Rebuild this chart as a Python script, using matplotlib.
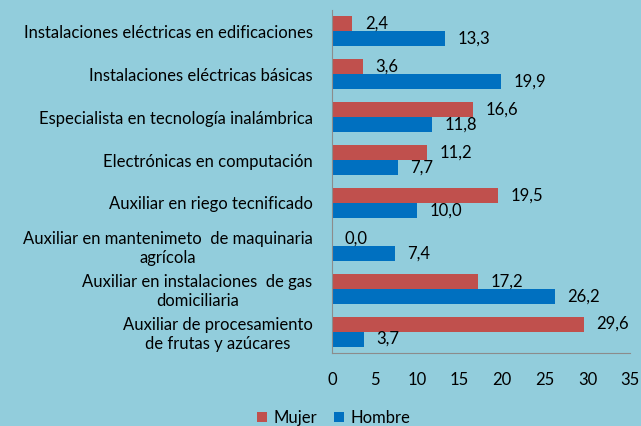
import matplotlib.pyplot as plt
import numpy as np

# data
categorias = [
    "Instalaciones eléctricas en edificaciones",
    "Instalaciones eléctricas básicas",
    "Especialista en tecnología inalámbrica",
    "Electrónicas en computación",
    "Auxiliar en riego tecnificado",
    "Auxiliar en mantenimeto  de maquinaria\nagrícola",
    "Auxiliar en instalaciones  de gas\ndomiciliaria",
    "Auxiliar de procesamiento\nde frutas y azúcares",
]
mujer = [2.4, 3.6, 16.6, 11.2, 19.5, 0.0, 17.2, 29.6]
hombre = [13.3, 19.9, 11.8, 7.7, 10.0, 7.4, 26.2, 3.7]
xticks = [0, 5, 10, 15, 20, 25, 30, 35]

bg = "#92CDDC"
c_mujer = "#C0504D"
c_hombre = "#0070C0"
fs = 12

plt.rcParams['font.family'] = ['Lato', 'DejaVu Sans']

fig = plt.figure(figsize=(6.41, 4.26), dpi=100, facecolor=bg)
ax = fig.add_axes([332 / 641, 1 - 353 / 426, (630 - 332) / 641, (353 - 10) / 426])
ax.set_facecolor(bg)

y = np.arange(len(categorias))
h = 0.35
ax.barh(y - h / 2, mujer, height=h, color=c_mujer, label="Mujer")
ax.barh(y + h / 2, hombre, height=h, color=c_hombre, label="Hombre")

for i in range(len(categorias)):
    ax.annotate(f"{mujer[i]:.1f}".replace(".", ","), (mujer[i], y[i] - h / 2),
                xytext=(9, 0), textcoords="offset points", va="center", fontsize=fs)
    ax.annotate(f"{hombre[i]:.1f}".replace(".", ","), (hombre[i], y[i] + h / 2),
                xytext=(9, 0), textcoords="offset points", va="center", fontsize=fs)

ax.set_xlim(0, 35)
ax.set_ylim(len(categorias) - 0.5, -0.5)
ax.set_xticks(xticks)
ax.set_xticklabels([str(t) for t in xticks], fontsize=fs)
ax.tick_params(axis="x", length=0, pad=14)
ax.set_yticks(y)
ax.set_yticklabels(categorias, fontsize=fs, multialignment="center")
ax.tick_params(axis="y", length=0, pad=14)

for s in ["top", "right"]:
    ax.spines[s].set_visible(False)
for s in ["left", "bottom"]:
    ax.spines[s].set_color("#8c8c8c")

fig.legend(loc="lower center", bbox_to_anchor=(0.52, -0.035), ncol=2, frameon=False,
           fontsize=fs, handlelength=0.6, handleheight=0.6, columnspacing=1.0,
           handletextpad=0.4)

fig.savefig("out.png", dpi=100, facecolor=bg)
